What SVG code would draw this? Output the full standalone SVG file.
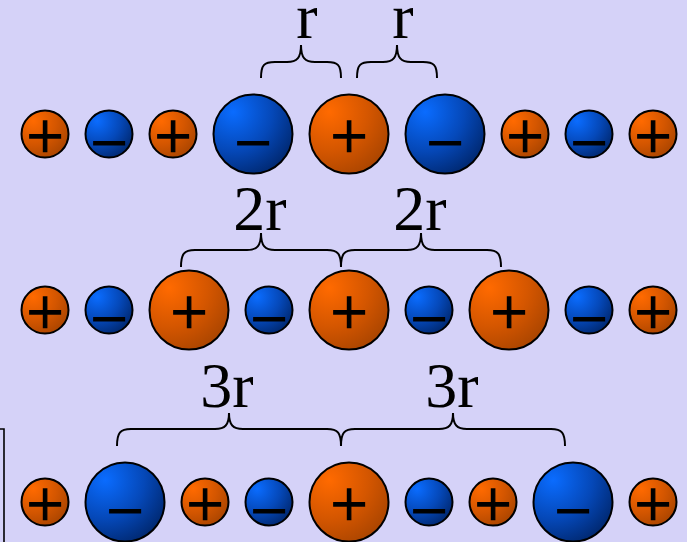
<svg xmlns="http://www.w3.org/2000/svg" width="687" height="542" viewBox="0 0 687 542">
<defs>
<radialGradient id="gOr" cx="0.25" cy="0.22" r="0.9" fx="0.25" fy="0.22">
<stop offset="0" stop-color="#ff6a00"/>
<stop offset="0.55" stop-color="#d45600"/>
<stop offset="1" stop-color="#a84400"/>
</radialGradient>
<radialGradient id="gBl" cx="0.25" cy="0.22" r="0.9" fx="0.25" fy="0.22">
<stop offset="0" stop-color="#0a6cff"/>
<stop offset="0.55" stop-color="#0548b8"/>
<stop offset="1" stop-color="#00266c"/>
</radialGradient>
</defs>
<style>
.pos{fill:url(#gOr);stroke:#000;stroke-width:2}
.neg{fill:url(#gBl);stroke:#000;stroke-width:2}
.sg{font-family:"Liberation Serif",serif;font-size:66px;text-anchor:middle;fill:#000;stroke:#000;stroke-width:1.3}
.lbl{font-family:"Liberation Serif",serif;font-size:64px;text-anchor:middle;fill:#000}
.br{fill:none;stroke:#000;stroke-width:2}
</style>
<rect width="687" height="542" fill="#d5d2f8"/>
<path d="M0,429 H4 V542" fill="none" stroke="#000" stroke-width="1.6"/>

<g id="labels">
<text class="lbl" x="307" y="38">r</text>
<text class="lbl" x="403" y="38">r</text>
<text class="lbl" x="260" y="230">2r</text>
<text class="lbl" x="420" y="230">2r</text>
<text class="lbl" x="227" y="407">3r</text>
<text class="lbl" x="452" y="407">3r</text>
</g>

<g id="connectors">
<path class="br" d="M261,78 C261,65 264,62 275,62 H287 C297,62 301,58 301,45 C301,58 305,62 315,62 H327 C338,62 341,65 341,78"/>
<path class="br" d="M357,78 C357,65 360,62 371,62 H383 C393,62 397,58 397,45 C397,58 401,62 411,62 H423 C434,62 437,65 437,78"/>
<path class="br" d="M181,267 C181,254 184,250 195,250 H247 C257,250 261,246 261,233 C261,246 265,250 275,250 H327 C338,250 341,254 341,267"/>
<path class="br" d="M341,267 C341,254 344,250 355,250 H407 C417,250 421,246 421,233 C421,246 425,250 435,250 H487 C498,250 501,254 501,267"/>
<path class="br" d="M117,446 C117,433 120,429 131,429 H215 C225,429 229,425 229,413 C229,425 233,429 243,429 H327 C338,429 341,433 341,446"/>
<path class="br" d="M341,446 C341,433 344,429 355,429 H439 C449,429 453,425 453,413 C453,425 457,429 467,429 H551 C562,429 565,433 565,446"/>
</g>

<g id="row1">
<g id="r1a"><circle class="pos" cx="45" cy="134" r="23.5"/><text class="sg" x="45" y="158">+</text></g>
<g id="r1b"><circle class="neg" cx="109" cy="134" r="23.5"/><text class="sg" x="109" y="165">−</text></g>
<g id="r1c"><circle class="pos" cx="173" cy="134" r="23.5"/><text class="sg" x="173" y="158">+</text></g>
<g id="r1d"><circle class="neg" cx="253" cy="134" r="39.5"/><text class="sg" x="253" y="165">−</text></g>
<g id="r1e"><circle class="pos" cx="349" cy="134" r="39.5"/><text class="sg" x="349" y="158">+</text></g>
<g id="r1f"><circle class="neg" cx="445" cy="134" r="39.5"/><text class="sg" x="445" y="165">−</text></g>
<g id="r1g"><circle class="pos" cx="525" cy="134" r="23.5"/><text class="sg" x="525" y="158">+</text></g>
<g id="r1h"><circle class="neg" cx="589" cy="134" r="23.5"/><text class="sg" x="589" y="165">−</text></g>
<g id="r1i"><circle class="pos" cx="653" cy="134" r="23.5"/><text class="sg" x="653" y="158">+</text></g>
</g>

<g id="row2">
<g id="r2a"><circle class="pos" cx="45" cy="310" r="23.5"/><text class="sg" x="45" y="334">+</text></g>
<g id="r2b"><circle class="neg" cx="109" cy="310" r="23.5"/><text class="sg" x="109" y="341">−</text></g>
<g id="r2c"><circle class="pos" cx="189" cy="310" r="39.5"/><text class="sg" x="189" y="334">+</text></g>
<g id="r2d"><circle class="neg" cx="269" cy="310" r="23.5"/><text class="sg" x="269" y="341">−</text></g>
<g id="r2e"><circle class="pos" cx="349" cy="310" r="39.5"/><text class="sg" x="349" y="334">+</text></g>
<g id="r2f"><circle class="neg" cx="429" cy="310" r="23.5"/><text class="sg" x="429" y="341">−</text></g>
<g id="r2g"><circle class="pos" cx="509" cy="310" r="39.5"/><text class="sg" x="509" y="334">+</text></g>
<g id="r2h"><circle class="neg" cx="589" cy="310" r="23.5"/><text class="sg" x="589" y="341">−</text></g>
<g id="r2i"><circle class="pos" cx="653" cy="310" r="23.5"/><text class="sg" x="653" y="334">+</text></g>
</g>

<g id="row3">
<g id="r3a"><circle class="pos" cx="45" cy="502" r="23.5"/><text class="sg" x="45" y="526">+</text></g>
<g id="r3b"><circle class="neg" cx="125" cy="502" r="39.5"/><text class="sg" x="125" y="533">−</text></g>
<g id="r3c"><circle class="pos" cx="205" cy="502" r="23.5"/><text class="sg" x="205" y="526">+</text></g>
<g id="r3d"><circle class="neg" cx="269" cy="502" r="23.5"/><text class="sg" x="269" y="533">−</text></g>
<g id="r3e"><circle class="pos" cx="349" cy="502" r="39.5"/><text class="sg" x="349" y="526">+</text></g>
<g id="r3f"><circle class="neg" cx="429" cy="502" r="23.5"/><text class="sg" x="429" y="533">−</text></g>
<g id="r3g"><circle class="pos" cx="493" cy="502" r="23.5"/><text class="sg" x="493" y="526">+</text></g>
<g id="r3h"><circle class="neg" cx="573" cy="502" r="39.5"/><text class="sg" x="573" y="533">−</text></g>
<g id="r3i"><circle class="pos" cx="653" cy="502" r="23.5"/><text class="sg" x="653" y="526">+</text></g>
</g>
</svg>
